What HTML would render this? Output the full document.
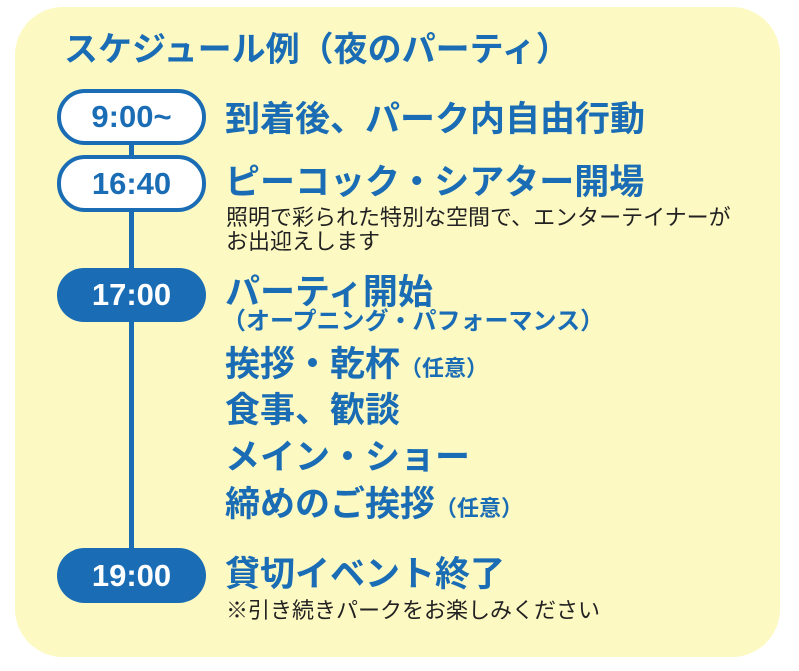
<!DOCTYPE html>
<html><head><meta charset="utf-8"><style>
body{margin:0;width:799px;height:671px;background:#fff;position:relative;overflow:hidden;font-family:"Liberation Sans","Noto Sans CJK JP",sans-serif}
.bg{position:absolute;left:15px;top:7px;width:765px;height:650px;background:#fdf9c3;border-radius:48px}
.t{position:absolute;white-space:nowrap;color:#1a6db5;font-weight:bold;line-height:1}
.pill{position:absolute;left:57px;width:149px;box-sizing:border-box;border:4px solid #1a6db5;border-radius:28px;background:#fff;color:#1a6db5;font-weight:bold;font-size:31px;text-align:center;font-family:"Liberation Sans",sans-serif}
.f{background:#1a6db5;color:#fff;border:none}
.line{position:absolute;left:129px;width:5px;background:#1a6db5}
.s{position:absolute;white-space:nowrap;color:#222;font-size:20px;line-height:1}
</style></head><body>
<div class="bg"></div>
<div class="line" style="top:140px;height:440px"></div>
<div class="t" style="left:64px;top:33px;font-size:34px">スケジュール例（夜のパーティ）</div>
<div class="pill" style="top:89px;height:56px;line-height:48px">9:00~</div>
<div class="pill" style="top:155px;height:57px;line-height:49px">16:40</div>
<div class="pill f" style="top:268px;height:54px;line-height:54px">17:00</div>
<div class="pill f" style="top:548px;height:55px;line-height:55px">19:00</div>
<div class="t" style="left:225px;top:102px;font-size:35px">到着後、パーク内自由行動</div>
<div class="t" style="left:225px;top:165px;font-size:35px">ピーコック・シアター開場</div>
<div class="s" style="left:226px;top:207px;font-size:22px">照明で彩られた特別な空間で、エンターテイナーが</div>
<div class="s" style="left:226px;top:231px;font-size:22px">お出迎えします</div>
<div class="t" style="left:225px;top:275px;font-size:35px">パーティ開始</div>
<div class="t" style="left:222px;top:310px;font-size:24px">（オープニング・パフォーマンス）</div>
<div class="t" style="left:225px;top:347px;font-size:35px">挨拶・乾杯<span style="font-size:22px">（任意）</span></div>
<div class="t" style="left:225px;top:393px;font-size:35px">食事、歓談</div>
<div class="t" style="left:225px;top:440px;font-size:35px">メイン・ショー</div>
<div class="t" style="left:225px;top:487px;font-size:35px">締めのご挨拶<span style="font-size:22px">（任意）</span></div>
<div class="t" style="left:225px;top:557px;font-size:35px">貸切イベント終了</div>
<div class="s" style="left:226px;top:600px;font-size:22px">※引き続きパークをお楽しみください</div>
</body></html>
